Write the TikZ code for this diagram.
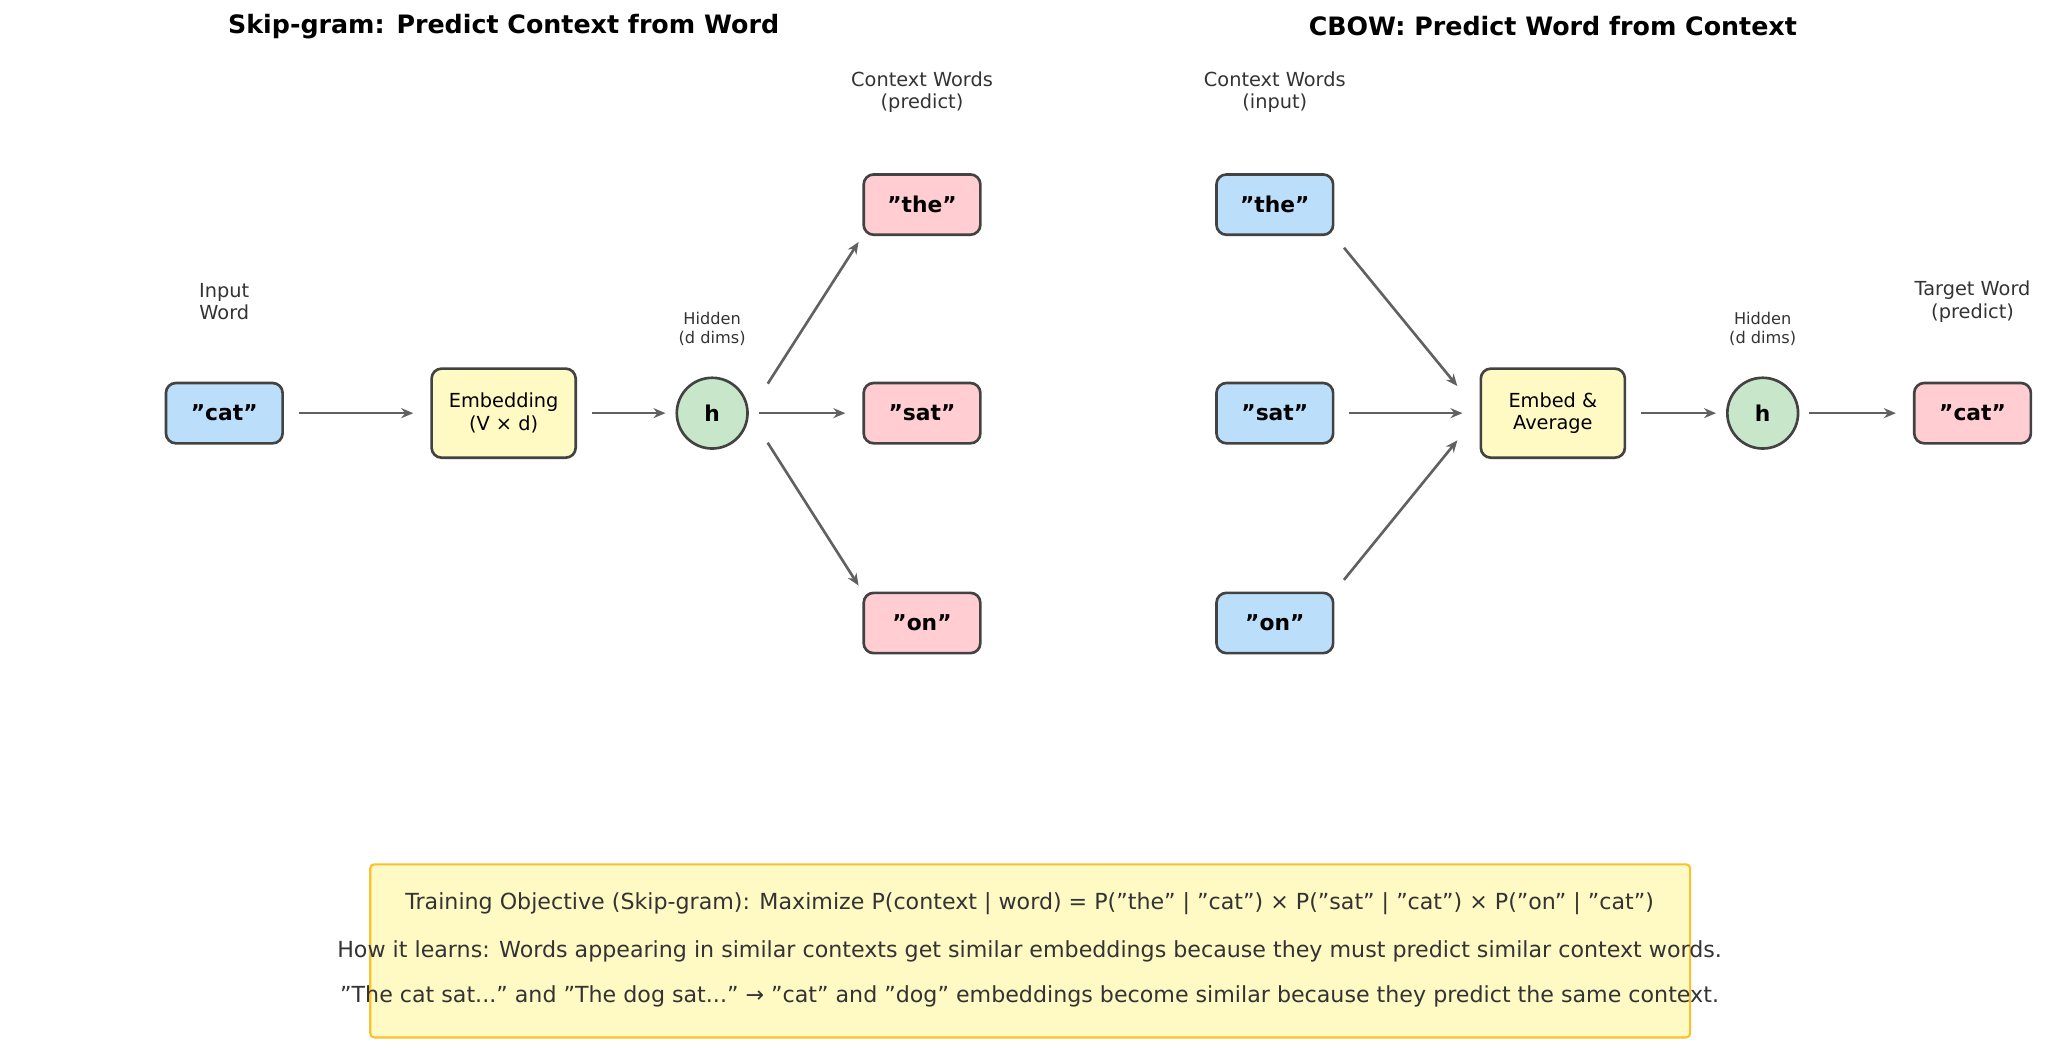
\documentclass[tikz,border=0pt]{standalone}
\usepackage{fontspec}
\setmainfont{DejaVu Sans}
\usetikzlibrary{arrows.meta,positioning}
\definecolor{wblue}{HTML}{BBDEFB}
\definecolor{wpink}{HTML}{FFCDD2}
\definecolor{wyellow}{HTML}{FFF9C4}
\definecolor{wgreen}{HTML}{C8E6C9}
\definecolor{wedge}{HTML}{424242}
\definecolor{warrow}{HTML}{616161}
\definecolor{wgold}{HTML}{FBC02D}
\definecolor{wtext}{HTML}{333333}
\begin{document}
\begin{tikzpicture}[
    x=0.0131cm, y=-0.0131cm,
    word/.style={
        rectangle, rounded corners=0.1cm,
        minimum width=1.166cm, minimum height=0.603cm,
        line width=0.75pt, draw=wedge,
        font=\fontsize{6.2}{7}\selectfont\bfseries
      },
    embed/.style={
        rectangle, rounded corners=0.1cm,
        minimum width=1.44cm, minimum height=0.89cm,
        line width=0.75pt, draw=wedge, fill=wyellow,
        align=center, font=\fontsize{5.5}{6.4}\selectfont
      },
    hid/.style={
        circle, minimum size=0.707cm, inner sep=0pt,
        line width=0.75pt, draw=wedge, fill=wgreen,
        font=\fontsize{6.2}{7}\selectfont\bfseries
      },
    label/.style={align=center, text=wtext, font=\fontsize{5.5}{6.3}\selectfont},
    small/.style={align=center, text=wtext, font=\fontsize{4.6}{5.3}\selectfont},
    title/.style={font=\fontsize{7.2}{8}\selectfont\bfseries},
    flow/.style={-{Stealth[length=0.12cm,width=0.1cm]}, line width=0.75pt, draw=warrow}
  ]
  \useasboundingbox (0,0) rectangle (1560,794);
  % skip-gram
  \node[title] (ttl1) at (384,20) {Skip-gram: Predict Context from Word};
  \node[word, fill=wblue] (cat) at (171,315) {"cat"};
  \node[label] (lin) at (171,230) {Input\\Word};
  \node[embed] (emb) at (384,315) {Embedding\\(V × d)};
  \node[hid] (h1) at (543,315) {h};
  \node[small] (lh1) at (543,251) {Hidden\\(d dims)};
  \node[word, fill=wpink] (pthe) at (703,156) {"the"};
  \node[word, fill=wpink] (psat) at (703,315) {"sat"};
  \node[word, fill=wpink] (pon) at (703,475) {"on"};
  \node[label] (lctx1) at (703,70) {Context Words\\(predict)};
  \draw[flow, shorten <=0.15cm, shorten >=0.17cm] (cat) -- (emb);
  \draw[flow, shorten <=0.15cm, shorten >=0.1cm] (emb) -- (h1);
  \draw[flow, shorten <=0.35cm, shorten >=0.07cm] (h1.east) -- (pthe.south west);
  \draw[flow, shorten <=0.1cm, shorten >=0.17cm] (h1) -- (psat);
  \draw[flow, shorten <=0.35cm, shorten >=0.07cm] (h1.east) -- (pon.north west);
  % cbow
  \node[title] (ttl2) at (1184,20) {CBOW: Predict Word from Context};
  \node[word, fill=wblue] (cthe) at (972,156) {"the"};
  \node[word, fill=wblue] (csat) at (972,315) {"sat"};
  \node[word, fill=wblue] (con) at (972,475) {"on"};
  \node[label] (lctx2) at (972,70) {Context Words\\(input)};
  \node[embed] (avg) at (1184,315) {Embed \&\\Average};
  \node[hid] (h2) at (1344,315) {h};
  \node[small] (lh2) at (1344,251) {Hidden\\(d dims)};
  \node[word, fill=wpink] (tcat) at (1504,315) {"cat"};
  \node[label] (ltgt) at (1504,230) {Target Word\\(predict)};
  \draw[flow, shorten <=0.15cm, shorten >=0.35cm] (cthe.south east) -- (avg.west);
  \draw[flow, shorten <=0.15cm, shorten >=0.17cm] (csat) -- (avg);
  \draw[flow, shorten <=0.15cm, shorten >=0.35cm] (con.north east) -- (avg.west);
  \draw[flow, shorten <=0.15cm, shorten >=0.1cm] (avg) -- (h2);
  \draw[flow, shorten <=0.1cm, shorten >=0.17cm] (h2) -- (tcat);
  % objective
  \node[rectangle, rounded corners=0.04cm, draw=wgold, line width=0.6pt, fill=wyellow,
        minimum width=13.19cm, minimum height=1.73cm] (obj) at (785.5,725) {};
  \node[label, font=\fontsize{6.3}{7}\selectfont] (o1) at (785,689) {Training Objective (Skip-gram): Maximize P(context | word) = P("the" | "cat") × P("sat" | "cat") × P("on" | "cat")};
  \node[label, font=\fontsize{6.3}{7}\selectfont] (o2) at (785,725) {How it learns: Words appearing in similar contexts get similar embeddings because they must predict similar context words.};
  \node[label, font=\fontsize{6.3}{7}\selectfont] (o3) at (785,760) {"The cat sat..." and "The dog sat..." → "cat" and "dog" embeddings become similar because they predict the same context.};
\end{tikzpicture}
\end{document}
